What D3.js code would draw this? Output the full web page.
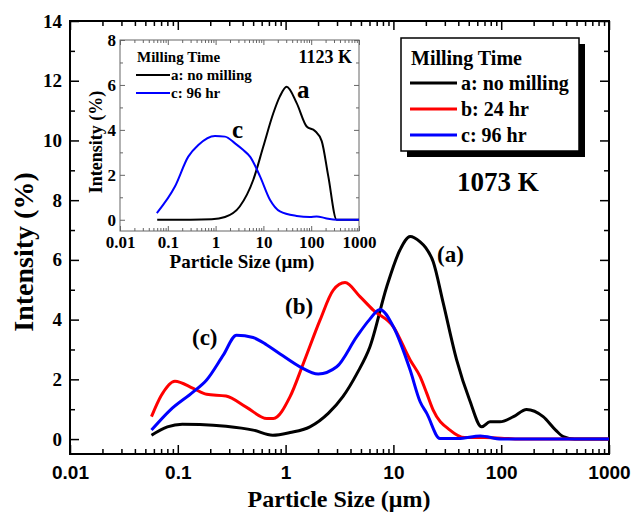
<!DOCTYPE html>
<html>
<head>
<meta charset="utf-8">
<script src="https://cdn.jsdelivr.net/npm/d3@7"></script>
<style>
  body { margin: 0; background: #fff; }
  svg { display: block; }
</style>
</head>
<body>
<svg id="box" width="634" height="516"></svg>
<script>
// main chart, 1073 K
let sizeA=[0.057,0.08,0.11,0.16,0.28,0.5,0.76,1.1,1.68,2.5,3.4,4.6,6.06,8.67,11.5,14.3,17.7,20,23.4,29,38.6,51,65.9,78.7,97.5,130,172,245,320,377,480,1000];
let intA =[0.13,0.41,0.5,0.49,0.43,0.3,0.13,0.22,0.41,0.87,1.42,2.2,3.09,5.1,6.33,6.78,6.6,6.4,5.94,4.55,2.65,1.3,0.41,0.58,0.58,0.75,0.99,0.75,0.3,0.08,0,0];
let sizeB=[0.057,0.07,0.094,0.139,0.185,0.28,0.435,0.67,0.77,1.1,1.46,2.09,2.77,3.56,4.9,6.5,10,14.3,17.7,20.4,23.4,33.5,46,70,100,150,1000];
let intB =[0.75,1.45,1.94,1.7,1.5,1.44,1.06,0.69,0.69,1.42,2.53,3.99,4.99,5.24,4.77,4.32,3.76,2.65,2.09,1.53,0.97,0.3,0.05,0.05,0.03,0,0];
let sizeC=[0.057,0.085,0.139,0.185,0.264,0.35,0.5,0.67,0.89,1.36,2.01,2.98,4.57,6.0,7.5,10,14.3,17.7,20.4,27,40,64,100,1000];
let intC =[0.3,0.97,1.58,1.98,2.81,3.48,3.4,3.15,2.85,2.42,2.18,2.42,3.43,4.0,4.34,3.76,2.31,1.25,0.86,0.02,0.02,0.1,0,0];

// inset, 1123 K
let sizeIA=[0.06,0.3,0.83,1.57,3.2,6.15,9.96,16.1,22,30.7,49.7,80.5,120,166,228,341,1000];
let intIA =[0,0,0.02,0.12,0.59,1.78,3.26,4.74,5.48,5.92,5.19,4.15,3.95,3.5,1.93,0,0];
let sizeIC=[0.059,0.141,0.268,0.435,0.97,1.57,2.55,3.8,5.25,8.5,13.7,22.2,49.7,94,130,200,341,1000];
let intIC =[0.3,1.48,2.81,3.33,3.73,3.7,3.4,3.1,2.81,1.93,0.89,0.37,0.17,0.12,0.15,0.07,0,0];

let xTicks=[0.01,0.1,1,10,100,1000];
let xTickLabels=["0.01","0.1","1","10","100","1000"];
let yTicks=[0,2,4,6,8,10,12,14];
let yMinor=[1,3,5,7,9,11,13];
let yTicksIn=[0,2,4,6,8];
let yMinorIn=[1,3,5,7];
let legendLabels=["a: no milling","b: 24 hr","c: 96 hr"];
let insetLegendLabels=["a: no milling","c: 96 hr"];

let colDict={"a":"#000000","b":"#ff0000","c":"#0000ff"};
let serif="'Liberation Serif','Times New Roman',serif";
let sans="'Liberation Sans',Arial,sans-serif";

let box=d3.select("#box");

function zip(xs,ys){return xs.map((v,i)=>({x:v,y:ys[i]}));}

function drawAxes(g,x,y,opt){
  let [x0,x1]=x.range(), [y0,y1]=y.range();
  let minorX=x.ticks().filter(d=>xTicks.indexOf(d)<0);
  let set=(sel)=>{sel.select(".domain").remove();sel.selectAll("line").attr("stroke",opt.tickColor).attr("stroke-width",opt.tickW);};
  // bottom
  g.append("g").attr("transform","translate(0,"+y0+")")
    .call(d3.axisBottom(x).tickValues(xTicks).tickSize(-opt.big).tickPadding(opt.xPad).tickFormat((d,i)=>xTickLabels[i]))
    .call(set).selectAll("text").attr("font-family",opt.xFont).attr("font-weight","bold").attr("font-size",opt.fs).attr("fill","#000");
  g.append("g").attr("transform","translate(0,"+y0+")")
    .call(d3.axisBottom(x).tickValues(minorX).tickSize(-opt.small).tickFormat("")).call(set);
  // top
  g.append("g").attr("transform","translate(0,"+y1+")")
    .call(d3.axisTop(x).tickValues(xTicks).tickSize(-opt.big).tickFormat("")).call(set);
  g.append("g").attr("transform","translate(0,"+y1+")")
    .call(d3.axisTop(x).tickValues(minorX).tickSize(-opt.small).tickFormat("")).call(set);
  // left
  g.append("g").attr("transform","translate("+x0+",0)")
    .call(d3.axisLeft(y).tickValues(opt.yT).tickSize(-opt.big).tickPadding(opt.yPad))
    .call(set).selectAll("text").attr("font-family",serif).attr("font-weight","bold").attr("font-size",opt.fs).attr("fill","#000");
  g.append("g").attr("transform","translate("+x0+",0)")
    .call(d3.axisLeft(y).tickValues(opt.yM).tickSize(-opt.small).tickFormat("")).call(set);
  // right
  g.append("g").attr("transform","translate("+x1+",0)")
    .call(d3.axisRight(y).tickValues(opt.yT).tickSize(-opt.big).tickFormat("")).call(set);
  g.append("g").attr("transform","translate("+x1+",0)")
    .call(d3.axisRight(y).tickValues(opt.yM).tickSize(-opt.small).tickFormat("")).call(set);
  g.append("rect").attr("x",x0).attr("y",y1).attr("width",x1-x0).attr("height",y0-y1)
    .attr("fill","none").attr("stroke",opt.frame).attr("stroke-width",opt.frameW);
}

// ---- main plot
let xMain=d3.scaleLog().domain([0.01,1000]).range([70,609]);
let yMain=d3.scaleLinear().domain([-0.5,14]).range([454,21]);
let gMain=box.append("g");
drawAxes(gMain,xMain,yMain,{big:9,small:5,tickW:1.5,tickColor:"#000",xPad:12,yPad:8,fs:19,xFont:sans,yT:yTicks,yM:yMinor,frame:"#000",frameW:2});

let lineMain=d3.line().x(d=>xMain(d.x)).y(d=>yMain(d.y)).curve(d3.curveMonotoneX);
[["a",sizeA,intA],["b",sizeB,intB],["c",sizeC,intC]].forEach(s=>{
  gMain.append("path").datum(zip(s[1],s[2])).attr("d",lineMain)
    .attr("fill","none").attr("stroke",colDict[s[0]]).attr("stroke-width",3).attr("stroke-linejoin","round");
});

box.append("text").attr("transform","translate(33,252) rotate(-90)").attr("text-anchor","middle")
  .attr("font-family",serif).attr("font-weight","bold").attr("font-size",28).text("Intensity (%)");
box.append("text").attr("x",339).attr("y",507).attr("text-anchor","middle")
  .attr("font-family",serif).attr("font-weight","bold").attr("font-size",24).text("Particle Size (\u03bcm)");

let curveLabels=[["(a)",437,262],["(b)",285,314],["(c)",192,345]];
curveLabels.forEach(c=>{
  box.append("text").attr("x",c[1]).attr("y",c[2]).attr("font-family",serif).attr("font-weight","bold")
    .attr("font-size",23).text(c[0]);
});

// legend
let leg=box.append("g");
leg.append("rect").attr("x",407).attr("y",44).attr("width",178).attr("height",113).attr("fill","#000");
leg.append("rect").attr("x",401).attr("y",38).attr("width",178).attr("height",113).attr("fill","#fff").attr("stroke","#000").attr("stroke-width",1.5);
leg.append("text").attr("x",411).attr("y",65).attr("font-family",serif).attr("font-weight","bold").attr("font-size",20).text("Milling Time");
["a","b","c"].forEach((k,i)=>{
  let yy=83+i*26;
  leg.append("line").attr("x1",410).attr("x2",457).attr("y1",yy).attr("y2",yy).attr("stroke",colDict[k]).attr("stroke-width",3);
  leg.append("text").attr("x",461).attr("y",yy+7).attr("font-family",serif).attr("font-weight","bold").attr("font-size",20).text(legendLabels[i]);
});
box.append("text").attr("x",498).attr("y",191).attr("text-anchor","middle").attr("font-family",serif)
  .attr("font-weight","bold").attr("font-size",27).text("1073 K");

// ---- inset
let xIn=d3.scaleLog().domain([0.01,1000]).range([120,359]);
let yIn=d3.scaleLinear().domain([-0.5,8]).range([231,40]);
let gIn=box.append("g");
gIn.append("rect").attr("x",120).attr("y",40).attr("width",239).attr("height",191).attr("fill","#fff");
drawAxes(gIn,xIn,yIn,{big:5,small:3,tickW:1,tickColor:"#666",xPad:5,yPad:4,fs:17,xFont:serif,yT:yTicksIn,yM:yMinorIn,frame:"#666",frameW:1});

let lineIn=d3.line().x(d=>xIn(d.x)).y(d=>yIn(d.y)).curve(d3.curveMonotoneX);
[["a",sizeIA,intIA],["c",sizeIC,intIC]].forEach(s=>{
  gIn.append("path").datum(zip(s[1],s[2])).attr("d",lineIn)
    .attr("fill","none").attr("stroke",colDict[s[0]]).attr("stroke-width",2).attr("stroke-linejoin","round");
});

gIn.append("text").attr("transform","translate(102,142) rotate(-90)").attr("text-anchor","middle")
  .attr("font-family",serif).attr("font-weight","bold").attr("font-size",18).text("Intensity (%)");
gIn.append("text").attr("x",242).attr("y",268).attr("text-anchor","middle")
  .attr("font-family",serif).attr("font-weight","bold").attr("font-size",19).text("Particle Size (\u03bcm)");
gIn.append("text").attr("x",137).attr("y",62).attr("font-family",serif).attr("font-weight","bold").attr("font-size",15).text("Milling Time");
["a","c"].forEach((k,i)=>{
  let yy=75+i*18;
  gIn.append("line").attr("x1",136).attr("x2",170).attr("y1",yy).attr("y2",yy).attr("stroke",colDict[k]).attr("stroke-width",2);
  gIn.append("text").attr("x",171).attr("y",yy+5).attr("font-family",serif).attr("font-weight","bold").attr("font-size",15).text(insetLegendLabels[i]);
});
gIn.append("text").attr("x",352).attr("y",63).attr("text-anchor","end").attr("font-family",serif)
  .attr("font-weight","bold").attr("font-size",18).text("1123 K");
gIn.append("text").attr("x",297).attr("y",98).attr("font-family",serif).attr("font-weight","bold").attr("font-size",25).text("a");
gIn.append("text").attr("x",232).attr("y",138).attr("font-family",serif).attr("font-weight","bold").attr("font-size",25).text("c");
</script>
</body>
</html>
